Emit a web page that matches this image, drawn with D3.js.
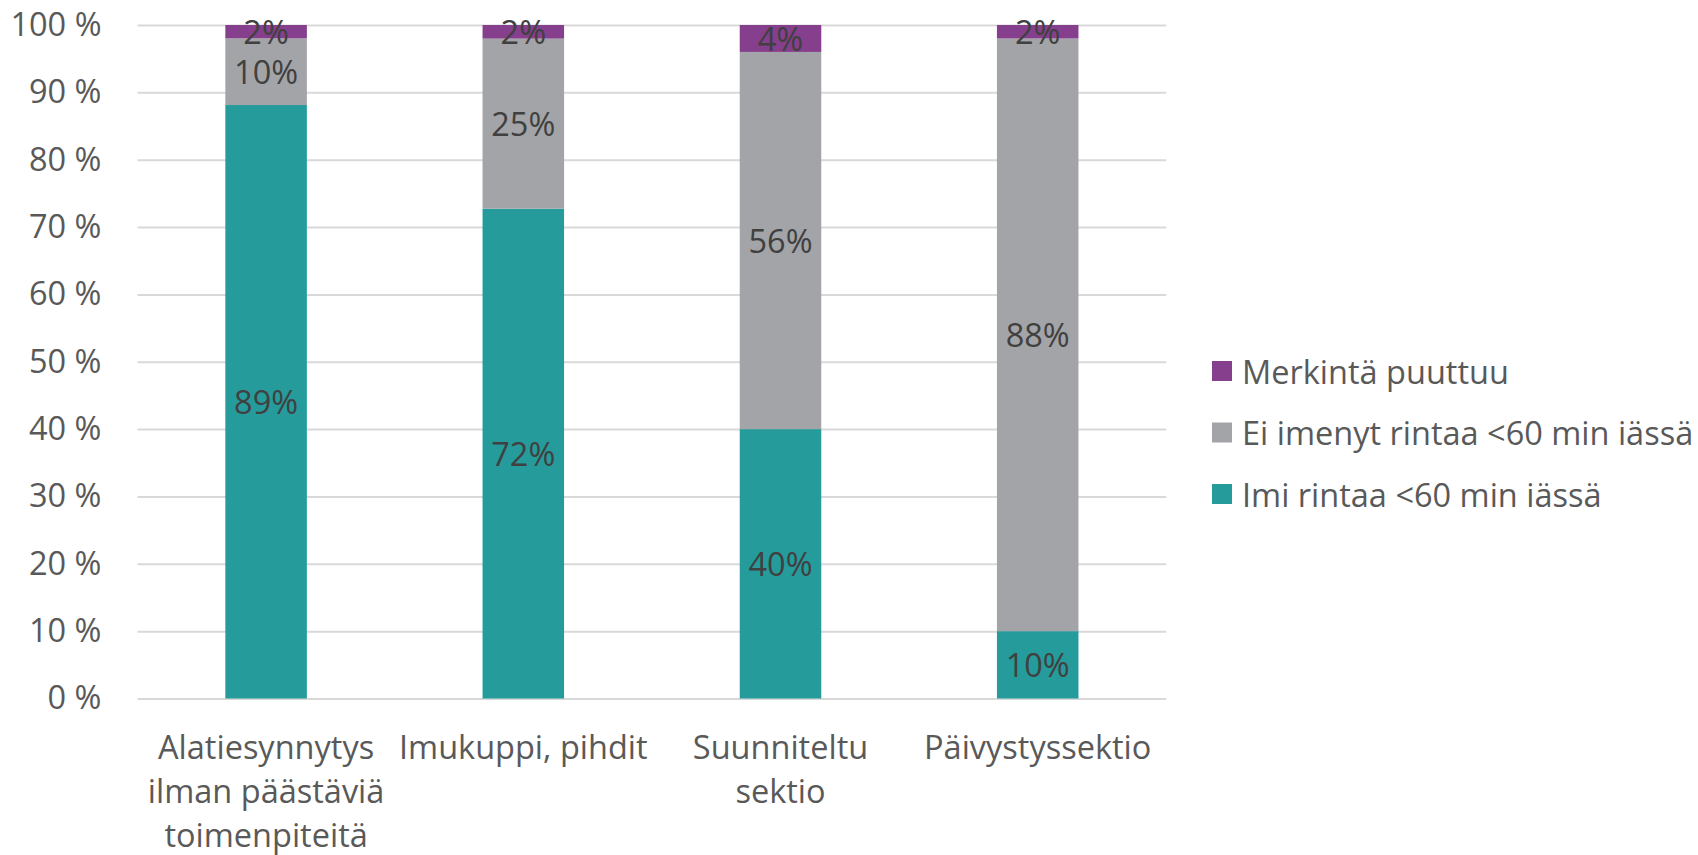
<!DOCTYPE html>
<html>
<head>
<meta charset="utf-8">
<script src="https://cdn.jsdelivr.net/npm/d3@7"></script>
<style>
  html, body { margin: 0; padding: 0; background: #fff; }
  svg { display: block; font-family: "Open Sans", "Noto Sans", sans-serif; }
</style>
</head>
<body>
<svg id="chart" width="1698" height="855"></svg>
<script>
// Delivery types (category label lines)
const categories = [
  "Alatiesynnytys\nilman päästäviä\ntoimenpiteitä",
  "Imukuppi, pihdit",
  "Suunniteltu\nsektio",
  "Päivystyssektio"
];
// Series, bottom to top of each stack (percent shares)
const seriesNames = ["Imi rintaa <60 min iässä", "Ei imenyt rintaa <60 min iässä", "Merkintä puuttuu"];
const breastfed    = [89, 72, 40, 10];
const notBreastfed = [10, 25, 56, 88];
const missing      = [2, 2, 4, 2];
const seriesColors = ["#269b9c", "#a3a4a8", "#863f8c"];
const yTicks = [0, 0.1, 0.2, 0.3, 0.4, 0.5, 0.6, 0.7, 0.8, 0.9, 1];

const FS = 32.5;
const svg = d3.select("#chart");
const margin = { left: 137.5, right: 1166.3, top: 25, bottom: 698.5 };

const rows = categories.map((c, i) => ({
  cat: c,
  [seriesNames[0]]: breastfed[i],
  [seriesNames[1]]: notBreastfed[i],
  [seriesNames[2]]: missing[i]
}));

// 100 % stacked layout
const stack = d3.stack().keys(seriesNames).offset(d3.stackOffsetExpand);
const stacked = stack(rows);

const x = d3.scaleBand().domain(categories).range([margin.left, margin.right]).padding(0);
const barW = x.bandwidth() * 0.317;
const y = d3.scaleLinear().domain([0, 1]).range([margin.bottom, margin.top]);
const color = d3.scaleOrdinal().domain(seriesNames).range(seriesColors);

// Gridlines and value axis
const yAxis = d3.axisLeft(y)
  .tickValues(yTicks)
  .tickFormat(d => Math.round(d * 100) + " %")
  .tickSize(-(margin.right - margin.left))
  .tickPadding(36);
const gy = svg.append("g").attr("transform", `translate(${margin.left},0)`).call(yAxis);
gy.select(".domain").remove();
gy.selectAll(".tick line").attr("stroke", "#d9d9d9").attr("stroke-width", 2);
gy.selectAll(".tick text")
  .attr("fill", "#595959")
  .attr("font-size", FS)
  .attr("font-family", "'Open Sans', sans-serif");

// Stacked bars
const layers = svg.append("g").selectAll("g")
  .data(stacked).join("g")
  .attr("fill", d => color(d.key));
layers.selectAll("rect")
  .data(d => d.map(v => ({ v, key: d.key })))
  .join("rect")
  .attr("x", d => x(d.v.data.cat) + (x.bandwidth() - barW) / 2)
  .attr("width", barW)
  .attr("y", d => y(d.v[1]))
  .attr("height", d => y(d.v[0]) - y(d.v[1]));

// Value labels centered in each segment
const labels = svg.append("g");
stacked.forEach(layer => {
  layer.forEach(v => {
    labels.append("text")
      .attr("x", x(v.data.cat) + x.bandwidth() / 2)
      .attr("y", y((v[0] + v[1]) / 2))
      .attr("text-anchor", "middle")
      .attr("dominant-baseline", "central")
      .attr("fill", "#404040")
      .attr("font-size", FS)
      .text(v.data[layer.key] + "%");
  });
});

// Category labels
const catG = svg.append("g");
categories.forEach(c => {
  const t = catG.append("text")
    .attr("x", x(c) + x.bandwidth() / 2)
    .attr("y", 746)
    .attr("text-anchor", "middle")
    .attr("fill", "#595959")
    .attr("font-size", FS);
  c.split("\n").forEach((line, i) => {
    t.append("tspan")
      .attr("x", x(c) + x.bandwidth() / 2)
      .attr("y", 746 + i * 44)
      .attr("dominant-baseline", "central")
      .text(line);
  });
});

// Legend (top item is the top of the stack)
const legendItems = seriesNames.slice().reverse();
const legend = svg.append("g");
legendItems.forEach((name, i) => {
  const cy = 371 + i * 61.5;
  legend.append("rect")
    .attr("x", 1212).attr("y", cy - 10)
    .attr("width", 20).attr("height", 20)
    .attr("fill", color(name));
  legend.append("text")
    .attr("x", 1242).attr("y", cy)
    .attr("dominant-baseline", "central")
    .attr("fill", "#595959")
    .attr("font-size", FS)
    .text(name);
});
</script>
</body>
</html>
